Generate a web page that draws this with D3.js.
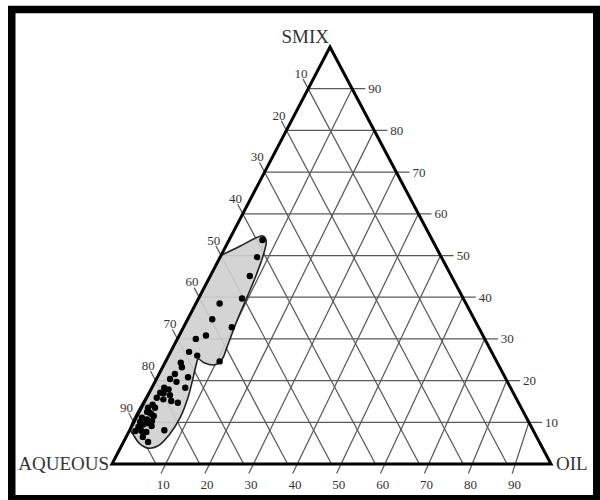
<!DOCTYPE html>
<html>
<head>
<meta charset="utf-8">
<script src="https://cdn.jsdelivr.net/npm/d3@7"></script>
<style>
  body { margin: 0; background: #fff; }
  text { font-family: "Liberation Serif", "DejaVu Serif", serif; }
</style>
</head>
<body>
<div id="chart"></div>
<script>
// ternary data: every point is (oil %, smix %), aqueous = 100 - oil - smix
var tickValues = [10, 20, 30, 40, 50, 60, 70, 80, 90];
var cornerLabels = ['AQUEOUS', 'OIL', 'SMIX'];

// sampled formulations (dots)
var pointOil  = [7.6, 8.4, 9.0, 9.9, 5.4, 5.6, 11.0, 6.1, 4.2, 4.2, 6.5, 12.3, 3.6, 4.4, 3.6, 3.1, 4.9, 7.0,
                 2.8, 4.0, 7.6, 2.3, 4.0, 6.0, 7.7, 3.1, 2.5, 3.8, 2.6, 1.3, 4.0, 2.4, 1.6, 4.5, 1.4, 2.8,
                 4.0, 7.9, 3.8, 5.6, 1.4, 1.5, 2.5, 3.0, 2.0, 3.2, 1.8, 5.0, 3.3, 2.2];
var pointSmix = [53.7, 49.6, 45.1, 39.7, 38.5, 34.7, 32.8, 30.8, 30.0, 26.9, 26.0, 24.6, 24.3, 23.2, 21.6, 20.4, 19.7, 20.8,
                 18.3, 17.9, 18.3, 15.9, 15.5, 15.1, 14.7, 13.5, 12.3, 11.5, 10.7, 11.1, 10.3, 9.5, 8.9, 9.1, 7.9, 7.9,
                 7.7, 8.1, 6.5, 5.3, 10.1, 13.5, 17.1, 12.0, 9.0, 9.8, 12.5, 16.5, 17.0, 14.2];

// boundary of the shaded microemulsion region
var regionOil  = [0, 0.8, 3.2, 6.0, 7.2, 8.5, 9.5, 10.3, 10.9, 11.4, 12.3, 12.6, 11.6, 8.9, 7.1, 7.3, 8.2, 9.4,
                  10.0, 9.6, 8.3, 6.3, 3.7, 1.4, 0, 0, 0, 0, 0];
var regionSmix = [50, 50.6, 52.2, 54.3, 54.7, 53.6, 50.5, 45.7, 39.9, 34.4, 27.9, 25.2, 23.8, 24.3, 25.2, 24.0, 20.7, 15.9,
                  11.1, 7.2, 4.3, 3.8, 5.0, 7.0, 8.4, 20, 30, 40, 50];

var width = 600, height = 500;
var svg = d3.select('#chart').append('svg')
    .attr('width', width)
    .attr('height', height);

// corners of the triangle in pixels
var triLeft = 112, triRight = 551, apexX = 330, baseY = 464, apexY = 47;

var yScale = d3.scaleLinear().domain([0, 100]).range([baseY, apexY]);
var oilScale = d3.scaleLinear().domain([0, 100]).range([0, triRight - triLeft]);
var smixShift = d3.scaleLinear().domain([0, 100]).range([0, apexX - triLeft]);

function px(oil, smix) {
  return [triLeft + oilScale(oil) + smixShift(smix), yScale(smix)];
}

// frame
svg.append('rect')
    .attr('x', 11.75).attr('y', 9.5)
    .attr('width', 585).attr('height', 489.25)
    .attr('fill', 'none')
    .attr('stroke', '#000')
    .attr('stroke-width', 7.5);

var grid = svg.append('g')
    .attr('stroke', '#5a5a5a')
    .attr('stroke-width', 1.25)
    .attr('fill', 'none');

function seg(a, b) {
  grid.append('line')
      .attr('x1', a[0]).attr('y1', a[1])
      .attr('x2', b[0]).attr('y2', b[1]);
}

tickValues.forEach(function(k) {
  // constant smix (horizontal) + tick on the right
  seg(px(0, k), px(100 - k + 3, k));
  // constant oil (parallel to left side) + tick below base
  seg(px(k + 2.3, -2.3), px(k, 100 - k));
  // constant aqueous (parallel to right side) + tick beyond left edge
  seg(px(100 - k, 0), px(-2.3, 100 - k + 2.3));
});

// shaded region
var regionPts = regionOil.map(function(o, i) { return px(o, regionSmix[i]); });
svg.append('path')
    .datum(regionPts)
    .attr('d', d3.line().curve(d3.curveCatmullRomClosed.alpha(0.5)))
    .attr('fill', '#cfcfcf')
    .attr('fill-opacity', 0.9)
    .attr('stroke', '#222')
    .attr('stroke-width', 1.6);

// triangle outline
svg.append('path')
    .datum([px(0, 0), px(100, 0), px(0, 100)])
    .attr('d', d3.line().curve(d3.curveLinearClosed))
    .attr('fill', 'none')
    .attr('stroke', '#000')
    .attr('stroke-width', 3)
    .attr('stroke-linejoin', 'miter');

// dots
svg.append('g').selectAll('circle')
    .data(pointOil)
    .enter()
      .append('circle')
      .attr('cx', function(d, i) { return px(d, pointSmix[i])[0]; })
      .attr('cy', function(d, i) { return px(d, pointSmix[i])[1]; })
      .attr('r', 3.2)
      .attr('fill', '#000');

// tick labels
var labels = svg.append('g')
    .attr('fill', '#333')
    .attr('font-size', 13);

tickValues.forEach(function(k) {
  var r = px(100 - k + 3, k);
  labels.append('text')
      .attr('x', r[0] + 3).attr('y', r[1] + 4.5)
      .text(k);
  var b = px(k + 3.3, -3.3);
  labels.append('text')
      .attr('x', b[0]).attr('y', b[1] + 11)
      .attr('text-anchor', 'middle')
      .text(k);
  var l = px(-3.3, 100 - k + 3.3);
  labels.append('text')
      .attr('x', l[0]).attr('y', l[1] + 3)
      .attr('text-anchor', 'middle')
      .text(k);
});

// corner titles
var titles = svg.append('g')
    .attr('fill', '#333')
    .attr('font-size', 19);
titles.append('text').attr('x', triLeft - 3).attr('y', baseY + 6).attr('text-anchor', 'end').text(cornerLabels[0]);
titles.append('text').attr('x', triRight + 5).attr('y', baseY + 6).text(cornerLabels[1]);
titles.append('text').attr('x', apexX - 1).attr('y', apexY - 4).attr('text-anchor', 'end').text(cornerLabels[2]);
</script>
</body>
</html>
